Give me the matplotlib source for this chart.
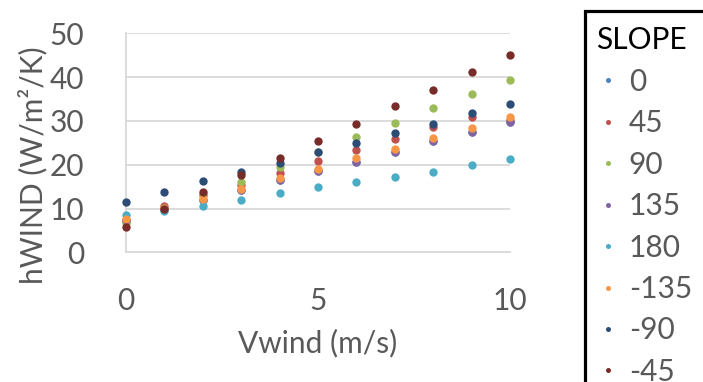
import matplotlib
matplotlib.use('Agg')
import matplotlib.pyplot as plt
from matplotlib.patches import Rectangle

plt.rcParams['font.family'] = ['Lato', 'DejaVu Sans']

vwind = [0, 1, 2, 3, 4, 5, 6, 7, 8, 9, 10]

slopes = ['0', '45', '90', '135', '180', '-135', '-90', '-45']

h_0 = [7.3, 10.0, 12.0, 14.2, 16.5, 18.6, 20.7, 23.0, 25.4, 27.5, 29.8]
h_45 = [7.2, 10.6, 13.0, 15.4, 18.0, 20.9, 23.4, 25.8, 28.5, 30.8, 30.3]
h_90 = [6.6, 10.2, 13.1, 16.1, 19.5, 22.9, 26.3, 29.6, 32.9, 36.1, 39.3]
h_135 = [7.3, 10.0, 12.0, 14.2, 16.5, 18.6, 20.7, 23.0, 25.4, 27.5, 29.8]
h_180 = [8.5, 9.5, 10.6, 11.9, 13.5, 14.8, 16.0, 17.2, 18.4, 20.0, 21.2]
h_m135 = [7.5, 10.2, 12.2, 14.4, 16.9, 19.1, 21.5, 23.7, 26.2, 28.3, 30.8]
h_m90 = [11.6, 13.8, 16.3, 18.4, 20.5, 22.8, 25.0, 27.2, 29.3, 31.7, 33.9]
h_m45 = [5.7, 9.8, 13.8, 17.6, 21.5, 25.3, 29.3, 33.3, 37.0, 41.1, 45.0]

series = [h_0, h_45, h_90, h_135, h_180, h_m135, h_m90, h_m45]
colors = ['#4F81BD', '#C0504D', '#9BBB59', '#8064A2', '#4BACC6',
          '#F79646', '#2C4D75', '#772C2A']

fs = 21.5

fig = plt.figure(figsize=(7.03, 3.82), dpi=100)
ax = fig.add_axes([0.1792, 0.3395, 0.5463, 0.5733])

for lab, vals, c in zip(slopes, series, colors):
    ax.plot(vwind, vals, 'o', color=c, markersize=6, markeredgewidth=0,
            label=lab, clip_on=False, zorder=3)

ax.set_xlim(0, 10)
ax.set_ylim(0, 50)
ax.set_xticks([0, 5, 10])
ax.set_yticks([0, 10, 20, 30, 40, 50])
ax.grid(axis='y', color='#D9D9D9', linewidth=1.3)
ax.set_axisbelow(True)
for s in ['top', 'right']:
    ax.spines[s].set_visible(False)
ax.spines['left'].set_color('#D9D9D9')
ax.spines['bottom'].set_color('#D9D9D9')
ax.spines['left'].set_linewidth(1.3)
ax.spines['bottom'].set_linewidth(1.3)
ax.tick_params(length=0, labelsize=fs, labelcolor='#595959')
ax.tick_params(axis='x', pad=25)
ax.tick_params(axis='y', pad=30)

ax.set_xlabel('Vwind (m/s)', fontsize=fs, color='#595959', labelpad=10)
ax.set_ylabel('hWIND (W/m²/K)', fontsize=fs, color='#595959')
ax.yaxis.set_label_coords(-0.205, 0.40)

# legend, frame drawn separately since it runs off the picture
leg = fig.legend(loc='upper left', bbox_to_anchor=(0.8115, 0.9974), title='SLOPE',
                 fontsize=fs, title_fontsize=fs, frameon=False,
                 markerscale=0.6, handlelength=0.8, handletextpad=0.3,
                 labelspacing=0.45, borderpad=0.35, alignment='left')
for t in leg.get_texts():
    t.set_color('#595959')

fig.patches.append(Rectangle((0.8321, -0.2), 0.4, 0.9699 + 0.2,
                             transform=fig.transFigure, fill=False,
                             edgecolor='black', linewidth=2.3))

fig.savefig('out.png', dpi=100)
